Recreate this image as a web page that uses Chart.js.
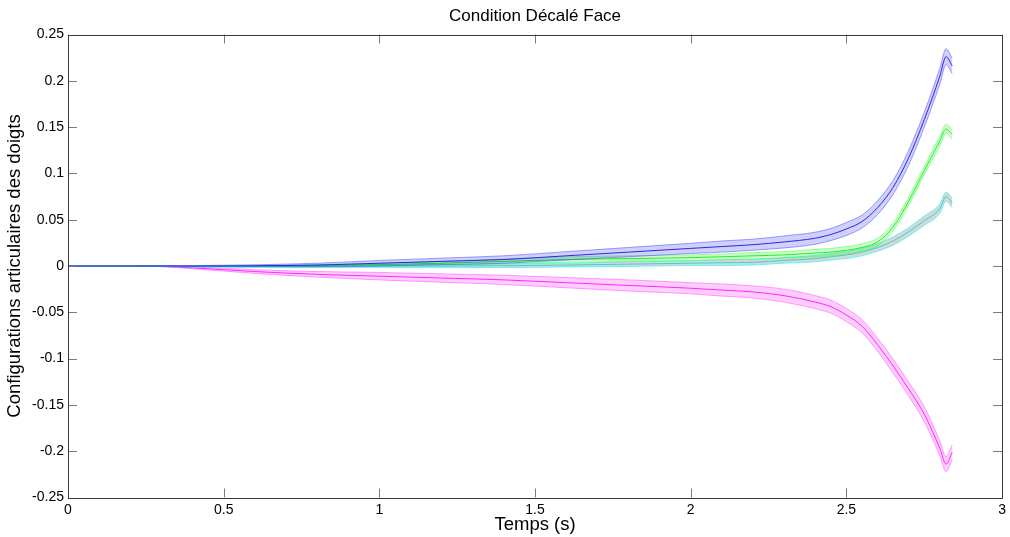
<!DOCTYPE html>
<html>
<head>
<meta charset="utf-8">
<script src="https://cdn.jsdelivr.net/npm/chart.js@4/dist/chart.umd.min.js"></script>
<style>
html,body{margin:0;padding:0;background:#fff;}
#wrap{width:1010px;height:537px;}
</style>
</head>
<body>
<div id="wrap"><canvas id="c" width="1010" height="537"></canvas></div>
<script>
const chartTitle = "Condition Décalé Face";
const xTitle = "Temps (s)";
const yTitle = "Configurations articulaires des doigts";
const xTicks = [0, 0.5, 1, 1.5, 2, 2.5, 3];
const yTicks = [0.25, 0.2, 0.15, 0.1, 0.05, 0, -0.05, -0.1, -0.15, -0.2, -0.25];

const time = [0,0.2,0.4,0.6,0.8,1.0,1.2,1.4,1.6,1.8,2.0,2.1,2.2,2.3,2.4,2.45,2.5,2.55,2.6,2.65,2.7,2.75,2.8,2.82,2.84];

const blueMean = [0,0,0,0.0003,0.001,0.003,0.005,0.007,0.011,0.015,0.019,0.021,0.023,0.026,0.030,0.034,0.040,0.048,0.063,0.085,0.117,0.158,0.205,0.226,0.216];
const blueSd   = [0,0,0.0005,0.001,0.002,0.003,0.0035,0.004,0.0045,0.005,0.0055,0.006,0.006,0.0065,0.0065,0.0065,0.007,0.007,0.0075,0.0075,0.008,0.008,0.0085,0.0085,0.0085];

const greenMean = [0,0,0,0,0.0005,0.0015,0.003,0.005,0.007,0.008,0.009,0.010,0.011,0.012,0.014,0.015,0.017,0.020,0.026,0.042,0.070,0.103,0.135,0.148,0.142];
const greenSd   = [0,0,0,0.0005,0.001,0.0015,0.002,0.0025,0.003,0.003,0.003,0.003,0.0035,0.0035,0.004,0.004,0.004,0.004,0.004,0.004,0.0045,0.0045,0.005,0.005,0.005];

const cyanMean = [0,0,-0.0005,-0.0005,-0.0003,0,0,0.0003,0.001,0.002,0.003,0.0035,0.004,0.006,0.008,0.010,0.012,0.015,0.020,0.027,0.037,0.049,0.062,0.075,0.068];
const cyanSd   = [0,0,0.0005,0.001,0.001,0.0015,0.0015,0.002,0.002,0.0025,0.0025,0.003,0.003,0.003,0.0035,0.0035,0.004,0.004,0.004,0.0045,0.0045,0.005,0.005,0.005,0.005];

const magentaMean = [0,0.0005,-0.002,-0.006,-0.009,-0.011,-0.013,-0.015,-0.018,-0.021,-0.024,-0.026,-0.028,-0.032,-0.039,-0.044,-0.053,-0.065,-0.085,-0.108,-0.133,-0.160,-0.197,-0.214,-0.201];
const magentaSd   = [0,0,0.001,0.002,0.003,0.004,0.0045,0.005,0.0055,0.006,0.006,0.0065,0.0065,0.007,0.007,0.007,0.007,0.007,0.007,0.0075,0.0075,0.008,0.008,0.008,0.008];

const seriesDefs = [
  {mean: blueMean, sd: blueSd, line: '#2828e8', fill: 'rgba(40,40,230,0.22)', edge: 'rgba(80,80,255,0.55)'},
  {mean: greenMean, sd: greenSd, line: '#20f020', fill: 'rgba(40,240,40,0.22)', edge: 'rgba(60,255,60,0.5)'},
  {mean: cyanMean, sd: cyanSd, line: '#20eeee', fill: 'rgba(140,140,140,0.35)', edge: 'rgba(0,255,255,0.6)'},
  {mean: magentaMean, sd: magentaSd, line: '#ff20ff', fill: 'rgba(255,60,255,0.25)', edge: 'rgba(255,80,255,0.55)'}
];

const datasets = [];
seriesDefs.forEach(s => {
  const common = {pointRadius: 0, borderWidth: 1, cubicInterpolationMode: 'monotone'};
  datasets.push(Object.assign({}, common, {
    data: time.map((t, i) => ({x: t, y: s.mean[i] + s.sd[i]})),
    borderColor: s.edge, fill: false
  }));
  datasets.push(Object.assign({}, common, {
    data: time.map((t, i) => ({x: t, y: s.mean[i] - s.sd[i]})),
    borderColor: s.edge, backgroundColor: s.fill, fill: '-1'
  }));
  datasets.push(Object.assign({}, common, {
    data: time.map((t, i) => ({x: t, y: s.mean[i]})),
    borderColor: s.line, fill: false
  }));
});

const FONT = '"Liberation Sans", Arial, sans-serif';

const boxPlugin = {
  id: 'box',
  afterDraw(chart) {
    const ctx = chart.ctx;
    const a = chart.chartArea;
    const xs = chart.scales.x, ys = chart.scales.y;
    ctx.save();
    ctx.lineWidth = 1;
    ctx.strokeStyle = '#7a7a7a';
    ctx.beginPath();
    xTicks.forEach(v => {
      const px = Math.round(xs.getPixelForValue(v)) + 0.5;
      ctx.moveTo(px, a.bottom); ctx.lineTo(px, a.bottom - 9);
      ctx.moveTo(px, a.top); ctx.lineTo(px, a.top + 9);
    });
    yTicks.forEach(v => {
      const py = Math.round(ys.getPixelForValue(v)) + 0.5;
      ctx.moveTo(a.left, py); ctx.lineTo(a.left + 9, py);
      ctx.moveTo(a.right, py); ctx.lineTo(a.right - 9, py);
    });
    ctx.stroke();
    ctx.strokeStyle = '#3a3a3a';
    ctx.strokeRect(Math.round(a.left) + 0.5, Math.round(a.top) + 0.5,
                   Math.round(a.right - a.left), Math.round(a.bottom - a.top));
    // title centred over the axes
    ctx.fillStyle = '#000';
    ctx.font = '17px ' + FONT;
    ctx.textAlign = 'center';
    ctx.textBaseline = 'middle';
    ctx.fillText(chartTitle, (a.left + a.right) / 2, 16.5);
    ctx.restore();
  }
};

new Chart(document.getElementById('c'), {
  type: 'line',
  data: {datasets},
  options: {
    responsive: false,
    animation: false,
    layout: {padding: {left: 0, right: 5, top: 34.5, bottom: 0}},
    plugins: {
      legend: {display: false},
      tooltip: {enabled: false},
      title: {display: false}
    },
    scales: {
      x: {
        type: 'linear', min: 0, max: 3,
        afterBuildTicks: s => { s.ticks = xTicks.map(v => ({value: v})); },
        afterFit: s => { s.height = 39.5; },
        grid: {display: false, drawTicks: false},
        border: {display: false},
        ticks: {color: '#000', padding: 4, maxRotation: 0,
                font: {family: FONT, size: 14},
                callback: v => String(v)},
        title: {display: true, text: xTitle, color: '#000',
                font: {family: FONT, size: 18.5}, padding: {top: 0, bottom: 1}}
      },
      y: {
        type: 'linear', min: -0.25, max: 0.25,
        afterBuildTicks: s => { s.ticks = yTicks.map(v => ({value: v})); },
        afterFit: s => { s.width = 68; },
        grid: {display: false, drawTicks: false},
        border: {display: false},
        ticks: {color: '#000', padding: 4,
                font: {family: FONT, size: 14},
                callback: v => String(Math.round(v * 100) / 100)},
        title: {display: true, text: yTitle, color: '#000',
                font: {family: FONT, size: 18.5}, padding: {top: 4, bottom: 0}}
      }
    }
  },
  plugins: [boxPlugin]
});
</script>
</body>
</html>
